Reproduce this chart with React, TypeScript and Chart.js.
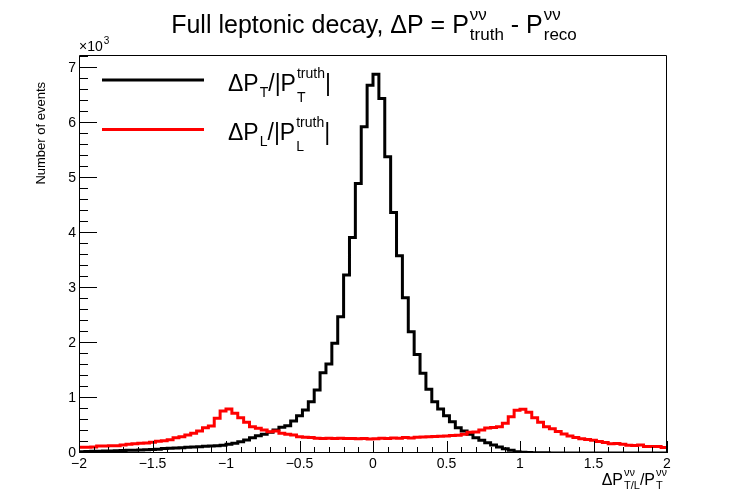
import React, { useEffect, useRef } from "react";
import { Chart, registerables } from "chart.js";

Chart.register(...registerables);

// Histogram range (100 bins from -2 to 2)
const X_MIN = -2;
const X_MAX = 2;
const Y_MAX = 7245;

// ΔP_T / |P_T^truth|  (black)
const transverse = [
  25, 28, 30, 32, 35, 38, 42, 45, 48, 50,
  55, 60, 65, 70, 80, 85, 90, 95, 105, 110,
  115, 125, 128, 130, 140, 158, 176, 206, 237, 279,
  316, 340, 376, 418, 467, 497, 582, 679, 782, 933,
  1146, 1461, 1619, 1996, 2480, 3239, 3924, 4907, 5937, 6696,
  6896, 6453, 5392, 4380, 3591, 2826, 2208, 1795, 1450, 1159,
  933, 800, 679, 570, 461, 400, 340, 279, 231, 188,
  146, 109, 79, 49, 24, 12, 8, 5, 4, 3,
  2, 2, 1, 1, 1, 0, 0, 0, 0, 0,
  0, 0, 0, 0, 0, 0, 0, 0, 0, 0,
];

// ΔP_L / |P_L^truth|  (red)
const longitudinal = [
  103, 103, 110, 127, 127, 133, 133, 146, 158, 170,
  176, 182, 194, 212, 225, 243, 279, 297, 327, 358,
  400, 461, 490, 631, 764, 800, 722, 643, 558, 479,
  449, 418, 388, 400, 358, 340, 327, 297, 285, 280,
  270, 265, 270, 262, 270, 265, 262, 258, 262, 255,
  258, 270, 262, 275, 268, 280, 272, 285, 290, 295,
  300, 305, 310, 318, 325, 340, 376, 380, 418, 455,
  465, 479, 540, 660, 780, 795, 740, 640, 560, 480,
  440, 390, 345, 310, 280, 258, 245, 230, 210, 190,
  170, 175, 160, 140, 135, 145, 120, 118, 118, 100,
];

const xMajorStep = 0.5;
const xMinorStep = 0.1;
const yMajorStep = 1000;
const yMinorStep = 200;

const FONT = '"Liberation Sans", Arial, Helvetica, sans-serif';

function histPoints(values: number[]) {
  const n = values.length;
  const w = (X_MAX - X_MIN) / n;
  const pts = values.map((v, i) => ({ x: X_MIN + i * w, y: v }));
  pts.push({ x: X_MAX, y: values[n - 1] });
  return pts;
}

type Part =
  | { t: string; s: number }
  | { sup: string; sub: string; s: number; supDy: number; subDy: number };

function fontOf(s: number) {
  return `${s}px ${FONT}`;
}

function measureParts(ctx: CanvasRenderingContext2D, parts: Part[]) {
  let w = 0;
  for (const p of parts) {
    ctx.font = fontOf(p.s);
    if ("t" in p) {
      w += ctx.measureText(p.t).width;
    } else {
      w += Math.max(ctx.measureText(p.sup).width, ctx.measureText(p.sub).width) + 1;
    }
  }
  return w;
}

function drawParts(
  ctx: CanvasRenderingContext2D,
  parts: Part[],
  x: number,
  baseline: number,
  align: "left" | "center" | "right",
  color: string
) {
  const total = measureParts(ctx, parts);
  let cx = align === "left" ? x : align === "center" ? x - total / 2 : x - total;
  ctx.save();
  ctx.fillStyle = color;
  ctx.textAlign = "left";
  ctx.textBaseline = "alphabetic";
  for (const p of parts) {
    ctx.font = fontOf(p.s);
    if ("t" in p) {
      ctx.fillText(p.t, cx, baseline);
      cx += ctx.measureText(p.t).width;
    } else {
      ctx.fillText(p.sup, cx + 1, baseline + p.supDy);
      ctx.fillText(p.sub, cx + 1, baseline + p.subDy);
      cx += Math.max(ctx.measureText(p.sup).width, ctx.measureText(p.sub).width) + 1;
    }
  }
  ctx.restore();
}

const isMultiple = (v: number, step: number) =>
  Math.abs(v / step - Math.round(v / step)) < 1e-6;

const decorPlugin = {
  id: "rootDecor",
  afterDraw(chart: any) {
    const ctx: CanvasRenderingContext2D = chart.ctx;
    const xs = chart.scales.x;
    const ys = chart.scales.y;
    const { left, right, top, bottom } = chart.chartArea;

    ctx.save();
    ctx.lineWidth = 1;
    ctx.strokeStyle = "#000";
    ctx.beginPath();
    ctx.moveTo(left + 0.5, top + 0.5);
    ctx.lineTo(right - 0.5, top + 0.5);
    ctx.lineTo(right - 0.5, bottom - 0.5);
    ctx.lineTo(left + 0.5, bottom - 0.5);
    ctx.closePath();
    ctx.stroke();

    ctx.beginPath();
    const nx = Math.round((X_MAX - X_MIN) / xMinorStep);
    for (let i = 0; i <= nx; i++) {
      const v = X_MIN + i * xMinorStep;
      const px = Math.round(xs.getPixelForValue(v)) + 0.5;
      const len = isMultiple(v, xMajorStep) ? 12 : 6;
      ctx.moveTo(px, bottom);
      ctx.lineTo(px, bottom - len);
    }
    for (let v = 0; v <= Y_MAX; v += yMinorStep) {
      const py = Math.round(ys.getPixelForValue(v)) - 0.5;
      const len = isMultiple(v, yMajorStep) ? 18 : 9;
      ctx.moveTo(left, py);
      ctx.lineTo(left + len, py);
    }
    ctx.stroke();
    ctx.restore();

    // title
    drawParts(
      ctx,
      [
        { t: "Full leptonic decay, ΔP = P", s: 25 },
        { sup: "νν", sub: "truth", s: 17, supDy: -13, subDy: 7 },
        { t: " - P", s: 25 },
        { sup: "νν", sub: "reco", s: 17, supDy: -13, subDy: 7 },
      ],
      374,
      33,
      "center",
      "#000"
    );

    // x10^3
    drawParts(
      ctx,
      [
        { t: "×10", s: 14 },
        { sup: "3", sub: "", s: 10, supDy: -7, subDy: 0 },
      ],
      79,
      51,
      "left",
      "#000"
    );

    // y title
    ctx.save();
    ctx.translate(45, 82);
    ctx.rotate(-Math.PI / 2);
    ctx.font = fontOf(13);
    ctx.fillStyle = "#000";
    ctx.textAlign = "right";
    ctx.textBaseline = "alphabetic";
    ctx.fillText("Number of events", 0, 0);
    ctx.restore();

    // x title
    drawParts(
      ctx,
      [
        { t: "ΔP", s: 16 },
        { sup: "νν", sub: "T/L", s: 11, supDy: -9, subDy: 4 },
        { t: "/P", s: 16 },
        { sup: "νν", sub: "T", s: 11, supDy: -9, subDy: 4 },
      ],
      667,
      485,
      "right",
      "#000"
    );

    // legend
    const entries = [
      { color: "#000000", sub: "T", y: 80 },
      { color: "#ff0000", sub: "L", y: 129.5 },
    ];
    for (const e of entries) {
      ctx.save();
      ctx.strokeStyle = e.color;
      ctx.lineWidth = 3;
      ctx.beginPath();
      ctx.moveTo(102, e.y);
      ctx.lineTo(204, e.y);
      ctx.stroke();
      ctx.restore();
      const base = e.y + 10.5;
      drawParts(
        ctx,
        [
          { t: "ΔP", s: 23 },
          { sup: "", sub: e.sub, s: 14, supDy: 0, subDy: 6 },
          { t: "/|P", s: 23 },
          { sup: "truth", sub: e.sub, s: 14, supDy: -13, subDy: 11 },
          { t: "|", s: 23 },
        ],
        228,
        base,
        "left",
        "#000"
      );
    }
  },
};

export default function App() {
  const canvasRef = useRef<HTMLCanvasElement | null>(null);

  useEffect(() => {
    document.body.style.margin = "0";
    const canvas = canvasRef.current;
    if (!canvas) return;
    const chart = new Chart(canvas, {
      type: "line",
      data: {
        datasets: [
          {
            label: "ΔP_L/|P_L^truth|",
            data: histPoints(longitudinal),
            borderColor: "#ff0000",
            borderWidth: 3,
            pointRadius: 0,
            fill: false,
            stepped: "before",
            tension: 0,
            order: 0,
            borderJoinStyle: "miter",
          } as any,
          {
            label: "ΔP_T/|P_T^truth|",
            data: histPoints(transverse),
            borderColor: "#000000",
            borderWidth: 3,
            pointRadius: 0,
            fill: false,
            stepped: "before",
            tension: 0,
            order: 1,
            borderJoinStyle: "miter",
          } as any,
        ],
      },
      options: {
        animation: false,
        responsive: false,
        devicePixelRatio: 1,
        parsing: false,
        normalized: true,
        layout: { padding: { left: 0, right: 70, top: 55, bottom: 0 } },
        plugins: {
          legend: { display: false },
          title: { display: false },
          tooltip: { enabled: false },
        },
        scales: {
          x: {
            type: "linear",
            min: X_MIN,
            max: X_MAX,
            grid: { display: false, drawTicks: false },
            border: { display: false },
            afterFit: (s: any) => {
              s.height = 47;
            },
            ticks: {
              stepSize: xMajorStep,
              autoSkip: false,
              maxRotation: 0,
              padding: 3,
              color: "#000",
              font: { family: FONT, size: 14 },
              callback: (v: any) => {
                const n = Number(v);
                const s = String(Math.round(Math.abs(n) * 10) / 10);
                return n < 0 ? "\u2212" + s : s;
              },
            },
          },
          y: {
            type: "linear",
            min: 0,
            max: Y_MAX,
            grid: { display: false, drawTicks: false },
            border: { display: false },
            afterFit: (s: any) => {
              s.width = 79;
            },
            afterBuildTicks: (s: any) => {
              const t = [];
              for (let v = 0; v <= Y_MAX; v += yMajorStep) t.push({ value: v });
              s.ticks = t;
            },
            ticks: {
              autoSkip: false,
              padding: 3,
              color: "#000",
              font: { family: FONT, size: 14 },
              callback: (v: any) => String(Math.round(Number(v) / 1000)),
            },
          },
        },
      } as any,
      plugins: [decorPlugin],
    });
    return () => chart.destroy();
  }, []);

  return (
    <div style={{ width: 737, height: 500, background: "#fff" }}>
      <canvas ref={canvasRef} width={737} height={500} style={{ display: "block" }} />
    </div>
  );
}
